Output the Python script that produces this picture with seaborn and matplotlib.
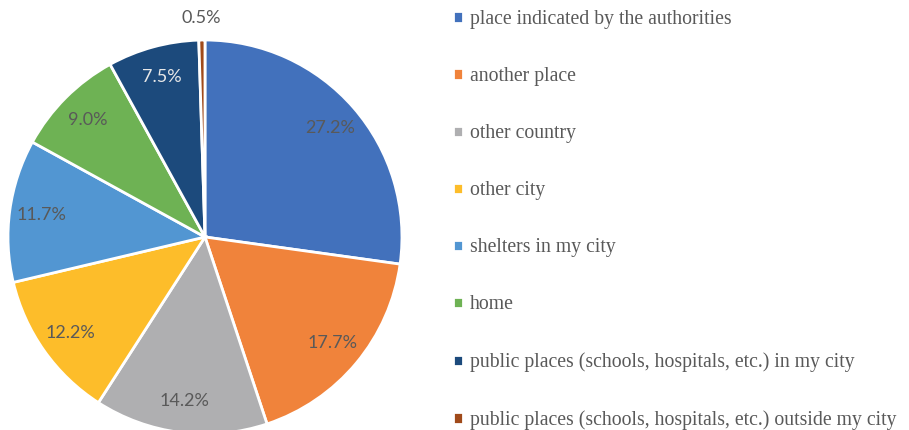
import matplotlib
matplotlib.use("Agg")
import numpy as np
import matplotlib.pyplot as plt
import seaborn as sns

# Shelter choices (share of respondents, %)
categories = [
    "place indicated by the authorities",
    "another place",
    "other country",
    "other city",
    "shelters in my city",
    "home",
    "public places (schools, hospitals, etc.) in my city",
    "public places (schools, hospitals, etc.) outside my city",
]
shares = [27.2, 17.7, 14.2, 12.2, 11.7, 9.0, 7.5, 0.5]
colors = ["#4271BC", "#F0833B", "#AFAFB1", "#FDBD2A",
          "#5296D2", "#6EB254", "#1C4A7C", "#A04A1A"]

sns.set_theme(style="white")
palette = sns.color_palette(colors)

fig = plt.figure(figsize=(9.09, 4.30), dpi=100)
ax = fig.add_axes([0.0088, -0.0093, 0.4334, 0.9163])

label_font = dict(family="Lato", size=13, color="#595959")

# small slices get their label outside the pie
def pct_label(p):
    return "" if p < 2 else f"{p:.1f}%"

wedges, _, autotexts = ax.pie(
    shares, colors=palette, startangle=90, counterclock=False,
    autopct=pct_label, pctdistance=0.84,
    wedgeprops=dict(edgecolor="white", linewidth=2),
    textprops=label_font,
)
# light label on the dark slice
autotexts[6].set_color("#E8E8E8")

for w, v in zip(wedges, shares):
    if v < 2:
        ang = np.deg2rad((w.theta1 + w.theta2) / 2)
        ax.text(1.11 * np.cos(ang), 1.11 * np.sin(ang), f"{v:.1f}%",
                ha="center", va="center", **label_font)

ax.set_xlim(-1, 1)
ax.set_ylim(-1, 1)
ax.set_aspect("equal")
ax.axis("off")

leg = fig.legend(
    wedges, categories, loc="upper left", bbox_to_anchor=(0.49, 0.995),
    frameon=False, handlelength=0.5, handleheight=0.5, handletextpad=0.35,
    labelspacing=1.93, borderaxespad=0.0,
    prop=dict(family="Liberation Serif", size=14.2),
)
for t in leg.get_texts():
    t.set_color("#595959")

fig.savefig("out.png", dpi=100)
